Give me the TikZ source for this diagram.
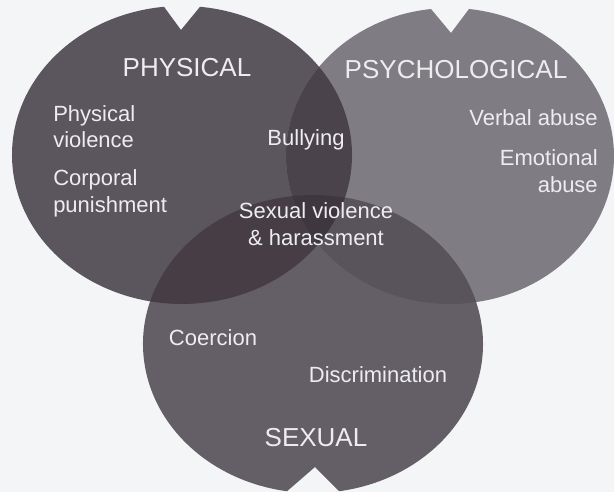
\documentclass[tikz,border=0pt]{standalone}
\usepackage{fontspec}
\setmainfont{Liberation Sans}
\definecolor{bgcol}{HTML}{F4F5F7}
\definecolor{physcol}{HTML}{5B555D}
\definecolor{psycol}{HTML}{807C83}
\definecolor{sexcol}{HTML}{645E66}
\definecolor{physpsy}{HTML}{4A434B}
\definecolor{physsex}{HTML}{463D45}
\definecolor{psysex}{HTML}{59535B}
\definecolor{allthree}{HTML}{3E373F}
\definecolor{txtcol}{HTML}{EDEDF0}
\begin{document}
\begin{tikzpicture}[x=.75pt, y=.75pt,
    head/.style={text=txtcol, inner sep=0pt, font=\fontsize{19.5}{22}\selectfont},
    item/.style={text=txtcol, inner sep=0pt, font=\fontsize{16.5}{20}\selectfont}]
    \def\phys{(164,485.2) arc[start angle=96.08, end angle=443.92, x radius=170, y radius=149] -- (181,462) -- cycle}
    \def\psy{(431,483) arc[start angle=96.65, end angle=443.35, x radius=164, y radius=148] -- (451,459) -- cycle}
    \def\sex{(339,.75) arc[start angle=278.8, end angle=621.2, x radius=170, y radius=149] -- (315,25) -- cycle}
    \useasboundingbox (0,0) rectangle (614,492);
    \fill[bgcol] (0,0) rectangle (614,492);
    \fill[physcol] \phys;
    \fill[psycol] \psy;
    \fill[sexcol] \sex;
    \begin{scope} \clip \phys; \fill[physpsy] \psy; \end{scope}
    \begin{scope} \clip \phys; \fill[physsex] \sex; \end{scope}
    \begin{scope} \clip \psy; \fill[psysex] \sex; \end{scope}
    \begin{scope} \clip \phys; \clip \psy; \fill[allthree] \sex; \end{scope}
    \node[head] (physhead) at (187,424) {PHYSICAL};
    \node[head] (psyhead) at (456,422) {PSYCHOLOGICAL};
    \node[head] (sexhead) at (316,54) {SEXUAL};
    \node[item, anchor=west, align=left] (physviol) at (53,365.5) {Physical\\violence};
    \node[item, anchor=west, align=left] (corporal) at (53,298.5) {Corporal\\punishment};
    \node[item] (bullying) at (306,352) {Bullying};
    \node[item, anchor=east] (verbal) at (598,374) {Verbal abuse};
    \node[item, anchor=east, align=right] (emotional) at (598,321) {Emotional\\abuse};
    \node[item, align=center] (sexviol) at (316,268) {Sexual violence\\\& harassment};
    \node[item] (coercion) at (213,154) {Coercion};
    \node[item] (discrim) at (378,117) {Discrimination};
\end{tikzpicture}
\end{document}
